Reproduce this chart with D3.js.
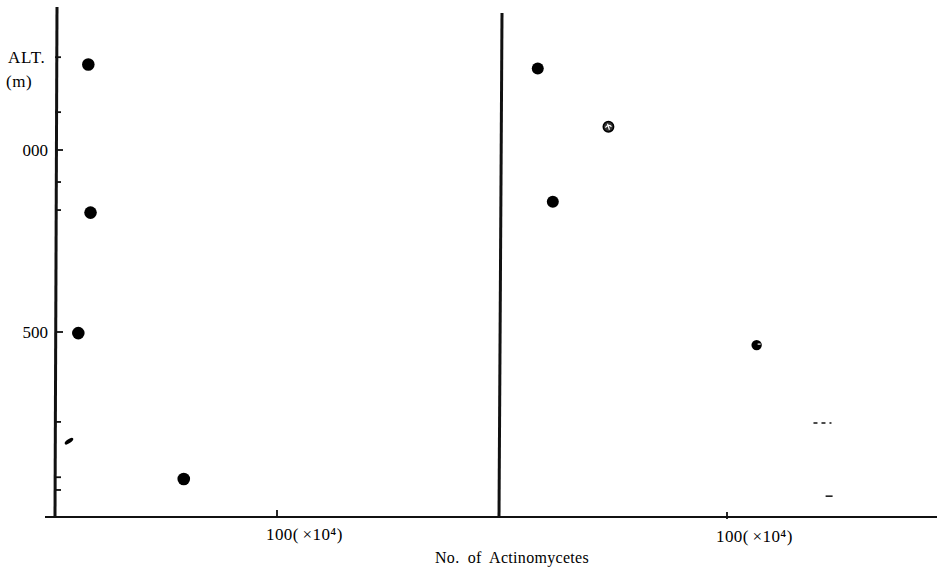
<!DOCTYPE html>
<html>
<head>
<meta charset="utf-8">
<script src="https://cdn.jsdelivr.net/npm/d3@7"></script>
<style>
  html, body { margin: 0; padding: 0; background: #fff; }
  text { font-family: "Liberation Serif", "DejaVu Serif", serif; fill: #000; }
</style>
</head>
<body>
<div id="chart"></div>
<script>
// altitude (m) and counts (x10^4)
const leftCounts = [15, 16, 10.5, 58];
const leftAlts = [1235, 828, 497, 96];
const rightCounts = [17, 48, 23.6, 113];
const rightAlts = [1224, 1064, 858, 464];
const rightKinds = ["full", "hatched", "full", "notched"];
const yTickAlts = [1255, 1104, 1000, 912, 835, 500, 253, 101, 66];
const yTickLabels = { 1000: "000", 500: "500" };
const xTickValue = 100;
const xTickLabel = "100(\u2009\u00d710\u2074)";
// stray print marks in the scan
const smudgeLeft = [[6.3, 200]];
const dashRight = [[141, 250], [145, 49]];

const width = 937, height = 570;
const svg = d3.select("#chart").append("svg")
    .attr("width", width)
    .attr("height", height);

const y = d3.scaleLinear().domain([0, 1000]).range([514, 150]);
const xLeft = d3.scaleLinear().domain([0, 100]).range([55, 277]);
const xRight = d3.scaleLinear().domain([0, 100]).range([499, 727]);

// x axis baseline
svg.append("line")
    .attr("x1", 45).attr("x2", 937)
    .attr("y1", y(0) + 3).attr("y2", y(0) + 3)
    .attr("stroke", "#111").attr("stroke-width", 2.2);

// left vertical axis
svg.append("line")
    .attr("x1", xLeft(0)).attr("x2", xLeft(0) + 2)
    .attr("y1", y(0) + 3).attr("y2", 7)
    .attr("stroke", "#111").attr("stroke-width", 3);

// right vertical axis
svg.append("line")
    .attr("x1", xRight(0)).attr("x2", xRight(0) + 3)
    .attr("y1", y(0) + 4).attr("y2", 13)
    .attr("stroke", "#111").attr("stroke-width", 3);

// y ticks
svg.append("g").selectAll("line")
    .data(yTickAlts)
    .join("line")
    .attr("x1", xLeft(0))
    .attr("x2", d => xLeft(0) + (yTickLabels[d] ? 8 : 6))
    .attr("y1", d => y(d)).attr("y2", d => y(d))
    .attr("stroke", "#111").attr("stroke-width", 1.8);

svg.append("g").selectAll("text")
    .data(yTickAlts.filter(d => yTickLabels[d]))
    .join("text")
    .attr("x", xLeft(0) - 7)
    .attr("y", d => y(d) + 6)
    .attr("text-anchor", "end")
    .attr("font-size", 17)
    .text(d => yTickLabels[d]);

svg.append("text")
    .attr("x", 8).attr("y", 63)
    .attr("font-size", 17)
    .attr("letter-spacing", 0.8)
    .text("ALT.");
svg.append("text")
    .attr("x", 6).attr("y", 87)
    .attr("font-size", 17)
    .attr("letter-spacing", 0.5)
    .text("(m)");

// x ticks + labels
[xLeft, xRight].forEach((x, i) => {
    svg.append("line")
        .attr("x1", x(xTickValue)).attr("x2", x(xTickValue))
        .attr("y1", y(0) + 3 + i * 2).attr("y2", y(0) - 4 + i * 2)
        .attr("stroke", "#111").attr("stroke-width", 1.8);
    svg.append("text")
        .attr("x", x(xTickValue) - 11)
        .attr("y", 540 + i * 2)
        .attr("font-size", 17)
        .attr("letter-spacing", 0.4)
        .text(xTickLabel);
});

svg.append("text")
    .attr("x", 512).attr("y", 563)
    .attr("text-anchor", "middle")
    .attr("font-size", 16)
    .attr("word-spacing", 4)
    .attr("letter-spacing", 0.3)
    .text("No. of Actinomycetes");

// left panel points
svg.append("g").selectAll("circle")
    .data(leftCounts.map((c, i) => [c, leftAlts[i]]))
    .join("circle")
    .attr("cx", d => xLeft(d[0]))
    .attr("cy", d => y(d[1]))
    .attr("r", 6.3)
    .attr("fill", "#000");

// right panel points
const rightPts = rightCounts.map((c, i) => ({ c, a: rightAlts[i], k: rightKinds[i] }));
const rg = svg.append("g");
rg.selectAll("circle")
    .data(rightPts)
    .join("circle")
    .attr("cx", d => xRight(d.c))
    .attr("cy", d => y(d.a))
    .attr("r", d => d.k === "full" ? 6 : 5.2)
    .attr("fill", d => d.k === "hatched" ? "#333" : "#000")
    .attr("stroke", "#000")
    .attr("stroke-width", d => d.k === "hatched" ? 1.5 : 0);

rg.selectAll("path.mark")
    .data(rightPts.filter(d => d.k !== "full"))
    .join("path")
    .attr("class", "mark")
    .attr("d", d => {
        const cx = xRight(d.c), cy = y(d.a);
        return d.k === "hatched"
            ? `M${cx - 3},${cy + 1}Q${cx},${cy - 3} ${cx + 3},${cy}M${cx - 1},${cy - 3}L${cx + 1},${cy + 3}`
            : `M${cx + 1},${cy - 1}L${cx + 4},${cy - 1}`;
    })
    .attr("stroke", "#fff")
    .attr("stroke-width", 1.2)
    .attr("fill", "none");

// stray marks
svg.append("g").selectAll("ellipse")
    .data(smudgeLeft)
    .join("ellipse")
    .attr("cx", d => xLeft(d[0]))
    .attr("cy", d => y(d[1]))
    .attr("rx", 5).attr("ry", 2)
    .attr("transform", d => `rotate(-35,${xLeft(d[0])},${y(d[1])})`)
    .attr("fill", "#000");

svg.append("g").selectAll("line")
    .data(dashRight)
    .join("line")
    .attr("x1", d => xRight(d[0]) - (d[1] > 100 ? 7 : 4))
    .attr("x2", d => xRight(d[0]) + (d[1] > 100 ? 11 : 3))
    .attr("y1", d => y(d[1])).attr("y2", d => y(d[1]))
    .attr("stroke", "#111")
    .attr("stroke-width", 1.5)
    .attr("stroke-dasharray", d => d[1] > 100 ? "4,4" : null);
</script>
</body>
</html>
